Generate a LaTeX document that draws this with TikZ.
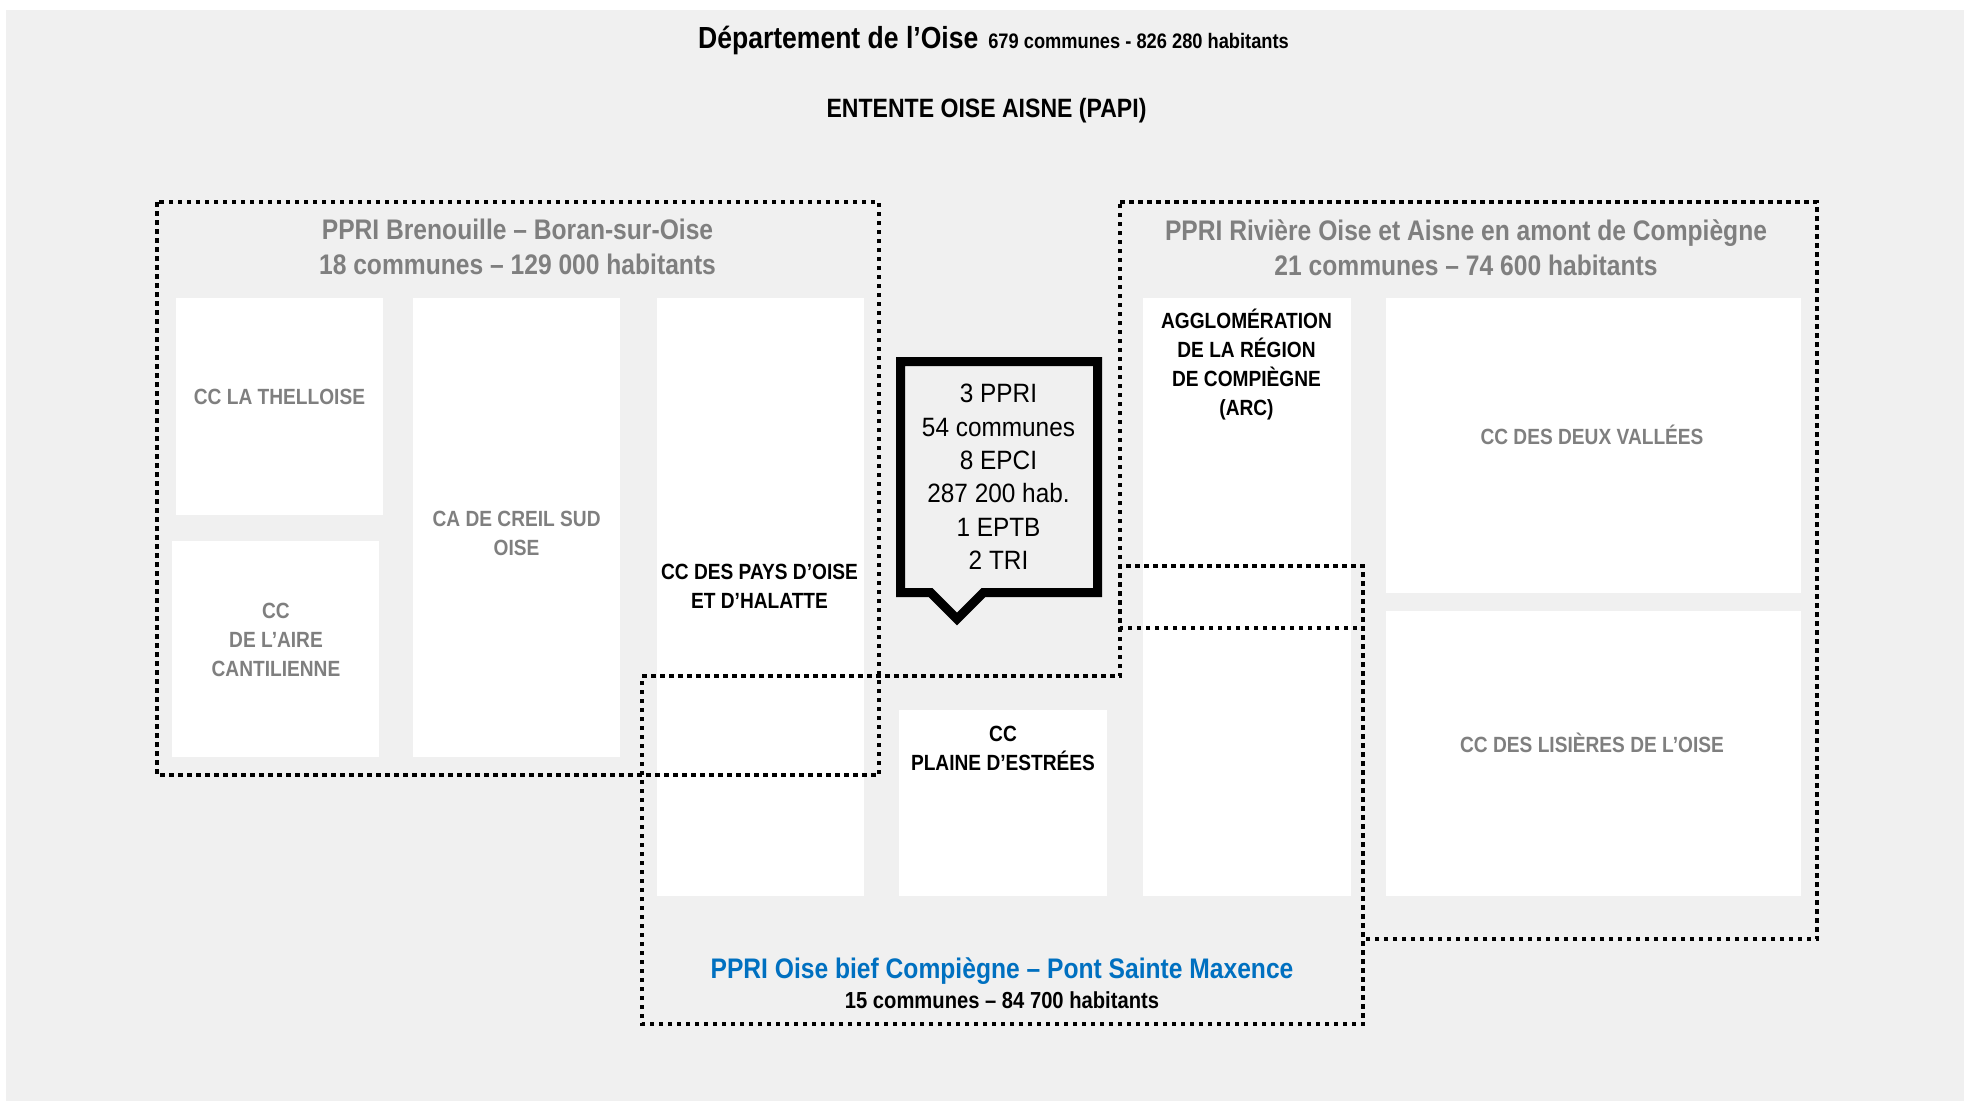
\documentclass[tikz,border=0pt]{standalone}
\usepackage{fontspec}
\setmainfont{Liberation Sans}[FakeStretch=0.87]
\newfontfamily\regfont{Liberation Sans}[FakeStretch=0.92]
\definecolor{bg}{HTML}{F0F0F0}
\definecolor{txtgray}{HTML}{7F7F7F}
\definecolor{ppriblue}{HTML}{0070C0}
\tikzset{
  area/.style={draw=black, line width=4.5pt, dash pattern=on 4.5pt off 4.5pt},
  commune/.style={fill=white, draw=none},
  lbl/.style={inner sep=0pt, align=center, font=\bfseries\fontsize{22}{29}\selectfont},
  graylbl/.style={lbl, text=txtgray},
  blacklbl/.style={lbl, text=black},
  pprititle/.style={inner sep=0pt, align=center, text=txtgray, font=\bfseries\fontsize{28.3}{35}\selectfont},
  callout/.style={draw=black, fill=bg, line width=9pt, miter limit=10},
  calltext/.style={inner sep=0pt, align=center, font=\regfont\fontsize{26.5}{33.3}\selectfont}
}
\begin{document}
\begin{tikzpicture}[x=1pt,y=-1pt]
\useasboundingbox (0,0) rectangle (1964,1101);
\fill[white] (0,0) rectangle (1964,1101);
\fill[bg] (6,10) rectangle (1964,1101);

% header
\node[anchor=base, inner sep=0pt, font=\bfseries] (title) at (993.5,48)
  {{\fontsize{30.5}{36}\selectfont Département de l’Oise}\hspace{10pt}{\fontsize{21}{25}\selectfont 679 communes - 826 280 habitants}};
\node[anchor=base, inner sep=0pt, font=\bfseries\fontsize{26.5}{32}\selectfont] (entente) at (986.5,117) {ENTENTE OISE AISNE (PAPI)};

% white commune boxes
\path[commune] (176,298) rectangle (383,515);
\path[commune] (172,541) rectangle (379,757);
\path[commune] (413,298) rectangle (620,757);
\path[commune] (657,298) rectangle (864,896);
\path[commune] (899,710) rectangle (1107,896);
\path[commune] (1143,298) rectangle (1351,896);
\path[commune] (1386,298) rectangle (1801,593);
\path[commune] (1386,611) rectangle (1801,896);

% commune labels
\node[graylbl, anchor=base] (thel) at (279.5,404) {CC LA THELLOISE};
\node[graylbl] (cant) at (276,639.6) {CC\\DE L’AIRE\\CANTILIENNE};
\node[graylbl] (creil) at (516.6,533.4) {CA DE CREIL SUD\\OISE};
\node[blacklbl] (pays) at (759.5,586.6) {CC DES PAYS D’OISE\\ET D’HALATTE};
\node[blacklbl] (plaine) at (1003,748.1) {CC\\PLAINE D’ESTRÉES};
\node[blacklbl] (arc) at (1246.5,364.8) {AGGLOMÉRATION\\DE LA RÉGION\\DE COMPIÈGNE\\(ARC)};
\node[graylbl, anchor=base] (deux) at (1592,444) {CC DES DEUX VALLÉES};
\node[graylbl, anchor=base] (lis) at (1592,752) {CC DES LISIÈRES DE L’OISE};

% PPRI areas
\draw[area] (157,202) rectangle (879,775);
\draw[area] (1120,202) -- (1817,202) -- (1817,939) -- (1363,939) -- (1363,628) -- (1120,628) -- cycle;
\draw[area] (642,676) -- (1120,676) -- (1120,566) -- (1363,566) -- (1363,1024) -- (642,1024) -- cycle;

% PPRI titles
\node[pprititle] (ppri1) at (517.5,247.3) {PPRI Brenouille – Boran-sur-Oise\\18 communes – 129 000 habitants};
\node[pprititle] (ppri2) at (1466,247.3) {PPRI Rivière Oise et Aisne en amont de Compiègne\\21 communes – 74 600 habitants};
\node[anchor=base, inner sep=0pt, text=ppriblue, font=\bfseries\fontsize{28.3}{35}\selectfont] (ppri3) at (1002,978) {PPRI Oise bief Compiègne – Pont Sainte Maxence};
\node[anchor=base, inner sep=0pt, text=black, font=\bfseries\fontsize{23.2}{28}\selectfont] (ppri3b) at (1002,1008) {15 communes – 84 700 habitants};

% callout
\draw[callout] (900.5,361.5) -- (1097.5,361.5) -- (1097.5,592.5) -- (983.5,592.5) -- (957,619) -- (930.5,592.5) -- (900.5,592.5) -- cycle;
\node[calltext] (stats) at (998.5,476.8) {3 PPRI\\54 communes\\8 EPCI\\287 200 hab.\\1 EPTB\\2 TRI};
\end{tikzpicture}
\end{document}
